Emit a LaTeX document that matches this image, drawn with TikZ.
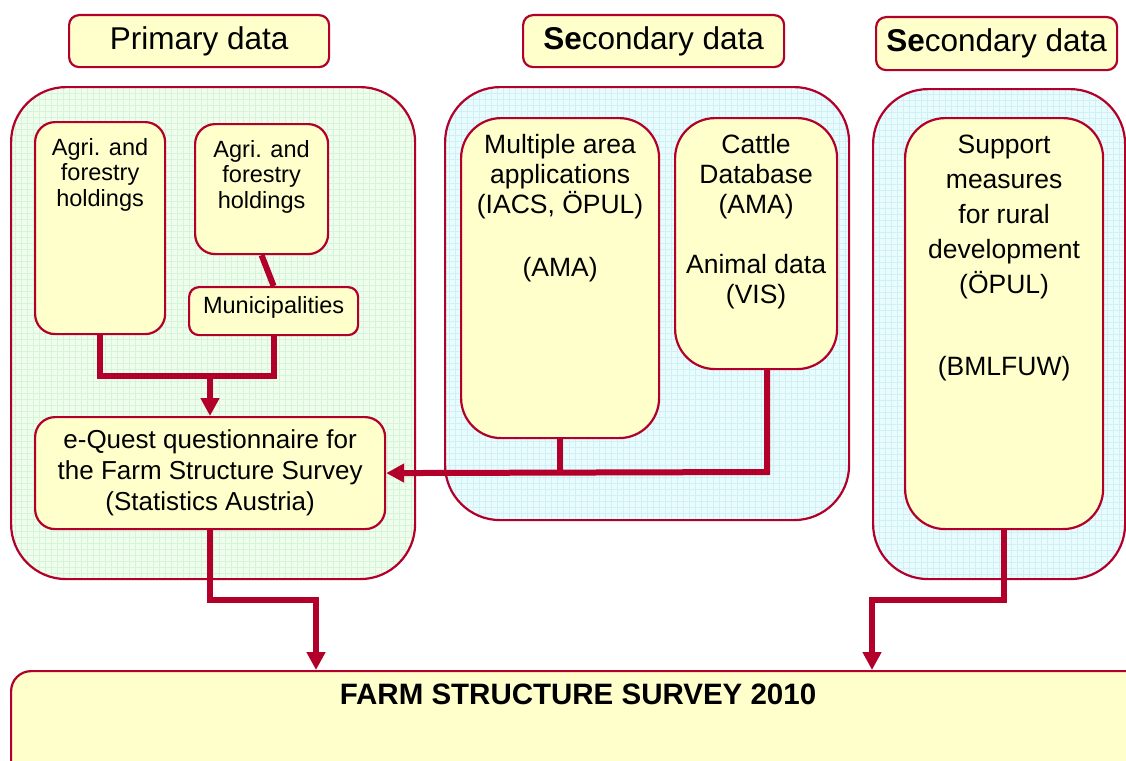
\documentclass[tikz,border=0pt]{standalone}
\usepackage{fontspec}
\setmainfont{Liberation Sans}
\usetikzlibrary{arrows.meta}
\definecolor{dred}{RGB}{178,0,42}
\definecolor{lyel}{RGB}{255,255,204}
\definecolor{lgreen}{RGB}{238,253,238}
\definecolor{ggrid}{RGB}{214,244,214}
\definecolor{lblue}{RGB}{232,251,253}
\definecolor{bgrid}{RGB}{208,240,246}
\begin{document}
\begin{tikzpicture}[x=1pt,y=-1pt,
  box/.style={draw=dred, fill=lyel, line width=2.2pt, rounded corners=#1, inner sep=0pt, anchor=north west},
  box/.default=20pt,
  cont/.style 2 args={draw=dred, fill=#1, line width=2.2pt, rounded corners=55pt, inner sep=0pt, anchor=north west,
    path picture={\draw[#2, line width=0.4pt] (path picture bounding box.south west) grid[step=6pt] (path picture bounding box.north east);}},
  txt/.style={inner sep=0pt, align=center, anchor=north},
  conn/.style={draw=dred, line width=6pt, line join=miter},
  arr/.style={conn, -{Triangle[length=18pt,width=18pt]}},
  title/.style={box=10pt},
  f30/.style={font=\fontsize{31.5}{34}\selectfont},
  f23/.style={font=\fontsize{23.5}{25.5}\selectfont},
  f26/.style={font=\fontsize{26.5}{30}\selectfont},
  f265/.style={font=\fontsize{26.5}{35}\selectfont},
  f25/.style={font=\fontsize{26}{31}\selectfont},
]
\useasboundingbox (0,0) rectangle (1126,760);
\fill[white] (0,0) rectangle (1126,760);

% titles
\node[title, minimum width=260pt, minimum height=52pt] (tp) at (68,14) {};
\node[f30, inner sep=0pt] (tpt) at (tp.center) {Primary data};
\node[title, minimum width=261pt, minimum height=52pt] (ts) at (522,14) {};
\node[f30, inner sep=0pt] (tst) at (ts.center) {{\bfseries Se}condary data};
\node[title, minimum width=241pt, minimum height=53pt] (tr) at (875,16) {};
\node[f30, inner sep=0pt] (trt) at (tr.center) {{\bfseries Se}condary data};

% containers
\node[cont={lgreen}{ggrid}, minimum width=404pt, minimum height=492pt] (cg) at (10,86) {};
\node[cont={lblue}{bgrid}, minimum width=404pt, minimum height=433pt] (cb) at (444,86) {};
\node[cont={lblue}{bgrid}, minimum width=252pt, minimum height=490pt] (cr) at (872,88) {};

% primary boxes
\node[box, minimum width=130pt, minimum height=212pt] (a1) at (34,121) {};
\node[txt, f23] (a1t) at ([yshift=-17pt]a1.north) {Agri. and\\forestry\\holdings};
\node[box, minimum width=133pt, minimum height=130pt] (a2) at (194,123) {};
\node[txt, f23] (a2t) at ([yshift=-17pt]a2.north) {Agri. and\\forestry\\holdings};
\node[box=10pt, minimum width=169pt, minimum height=48pt] (mun) at (188,286) {};
\node[f23, inner sep=0pt] (munt) at ([yshift=4pt]mun.center) {Municipalities};
\node[box, minimum width=350pt, minimum height=112pt] (eq) at (34,416) {};
\node[f25, inner sep=0pt, align=center] (eqt) at (eq.center) {e-Quest questionnaire for\\the Farm Structure Survey\\(Statistics Austria)};

% secondary boxes
\node[box=40pt, minimum width=198pt, minimum height=320pt] (ma) at (460,117) {};
\node[txt, f26] (mat) at ([yshift=-17pt]ma.north) {Multiple area\\applications\\(IACS, ÖPUL)\\[33pt](AMA)};
\node[box=40pt, minimum width=162pt, minimum height=251pt] (cat) at (674,117) {};
\node[txt, f26] (catt) at ([yshift=-17pt]cat.north) {Cattle\\Database\\(AMA)\\[30pt]Animal data\\(VIS)};
\node[box=40pt, minimum width=198pt, minimum height=411pt] (sup) at (904,117) {};
\node[txt, f265] (supt) at ([yshift=-18pt]sup.north) {Support\\measures\\for rural\\development\\(ÖPUL)\\[47pt](BMLFUW)};

% final box
\node[box=20pt, minimum width=1140pt, minimum height=110pt] (fss) at (10,670) {};
\node[inner sep=0pt, font=\fontsize{29.5}{32}\selectfont\bfseries] (fsst) at (578,694) {FARM STRUCTURE SURVEY 2010};

% connectors
\coordinate (jl) at (210,376);
\draw[conn] (a1.south) |- (jl) -| (mun.south);
\draw[conn] (a2.south) -- (mun.north);
\draw[arr] (jl) -- (eq.north -| jl);

\coordinate (cj) at (767,472);
\draw[conn] (ma.south) -- (ma.south |- cj);
\draw[arr] (cat.south -| cj) -- (cj) -- (eq.east);

\coordinate (b1) at (316,600);
\draw[arr] (eq.south) |- (b1) -- (b1 |- fss.north);
\coordinate (b2) at (872,600);
\draw[arr] (sup.south) |- (b2) -- (b2 |- fss.north);
\end{tikzpicture}
\end{document}
